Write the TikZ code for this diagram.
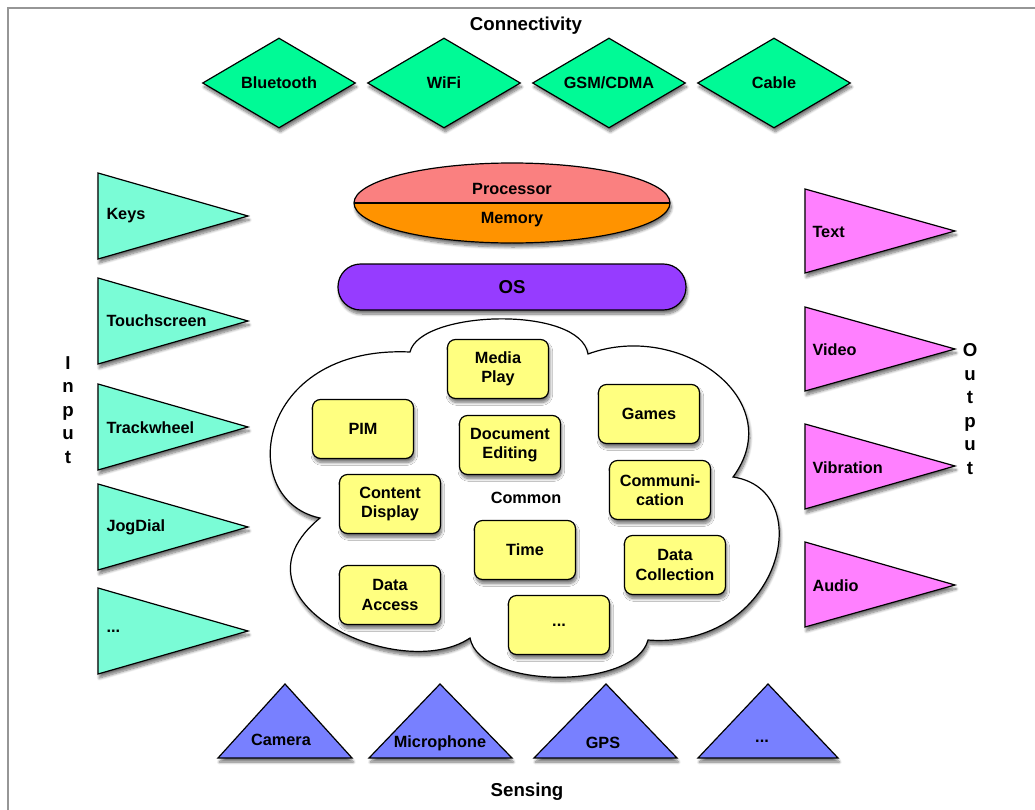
\documentclass[tikz,border=0pt]{standalone}
\usepackage{fontspec}
\setmainfont{Liberation Sans}
\usetikzlibrary{shapes.geometric,shadows.blur}

\tikzset{every picture/.style={line width=0.75pt}}
\tikzset{
  lbl/.style={font=\bfseries\fontsize{12.2}{14.6}\selectfont, inner sep=0.75pt},
  title/.style={font=\bfseries\fontsize{14}{17.6}\selectfont, inner sep=0.75pt},
  softshadow/.style={blur shadow={shadow xshift=1pt, shadow yshift=-3pt, shadow blur steps=8, shadow opacity=55}},
  outline/.style={draw, line width=0.9pt},
  conn/.style={diamond, outline, softshadow, fill={rgb,255:red,0;green,250;blue,150}, minimum width=114.75pt, minimum height=67.5pt, inner sep=0pt, aspect=1.7, lbl},
  intri/.style={outline, softshadow, fill={rgb,255:red,122;green,252;blue,214}},
  outtri/.style={outline, softshadow, fill={rgb,255:red,255;green,128;blue,255}},
  senstri/.style={outline, softshadow, fill={rgb,255:red,120;green,128;blue,255}},
  app/.style={rectangle, rounded corners=6pt, outline, softshadow, fill={rgb,255:red,255;green,255;blue,128}, minimum width=75.75pt, minimum height=44.25pt, align=center, lbl},
  osbox/.style={rectangle, rounded corners=17pt, outline, softshadow, fill={rgb,255:red,150;green,60;blue,255}, minimum width=261pt, minimum height=34.5pt, font=\bfseries\fontsize{14}{16}\selectfont}
}

\begin{document}
\begin{tikzpicture}[x=0.75pt,y=0.75pt,yscale=-1,xscale=1]
	\useasboundingbox (0,0) rectangle (1035,810);

	%Frame
	\draw [color={rgb, 255:red, 150; green, 150; blue, 150 }, line width=1.5] (8,810) -- (8,8) -- (1035,8) ;

	% Connectivity
	\node [title] (connectivity) at (526,26) {Connectivity};
	\node [conn] (bluetooth) at (279,83) {Bluetooth};
	\node [conn] (wifi) at (444,83) {WiFi};
	\node [conn] (gsm) at (609,83) {GSM/CDMA};
	\node [conn] (cable) at (774,83) {Cable};

	%Shape: Ellipse (processor / memory)
	\path [softshadow, fill=white] (512,203) ellipse [x radius=158, y radius=40] ;
	\fill [color={rgb, 255:red, 250; green, 128; blue, 128 }] (354,203) arc [start angle=180, end angle=360, x radius=158, y radius=40] -- cycle ;
	\fill [color={rgb, 255:red, 255; green, 147; blue, 0 }] (354,203) arc [start angle=180, end angle=0, x radius=158, y radius=40] -- cycle ;
	\draw [line width=0.9pt] (512,203) ellipse [x radius=158, y radius=40] ;
	\draw [line width=0.9pt] (354,203) -- (670,203) ;
	\node [lbl] (proc) at (512,189) {Processor};
	\node [lbl] (mem) at (512,220) {Memory};

	%Shape: OS
	\node [osbox] (os) at (512,287) {OS};

	%Shape: Cloud
	\draw [outline, softshadow, fill=white] (320,518) .. controls (235,500) and (255,345) .. (410,352)
		.. controls (420,310) and (580,305) .. (588,354)
		.. controls (680,320) and (790,400) .. (733,477)
		.. controls (820,490) and (780,650) .. (648,640)
		.. controls (635,690) and (480,690) .. (470,638)
		.. controls (400,685) and (220,600) .. (320,518) -- cycle ;

	% Apps
	\node [app] (media) at (498,369) {Media\\Play};
	\node [app] (pim) at (363,429) {PIM};
	\node [app] (docedit) at (510,445) {Document\\Editing};
	\node [app] (games) at (649,414) {Games};
	\node [app] (content) at (390,504) {Content\\Display};
	\node [app] (comm) at (660,490) {Communi-\\cation};
	\node [lbl] (common) at (526,498) {Common};
	\node [app] (time) at (525,550) {Time};
	\node [app] (datacoll) at (675,565) {Data\\Collection};
	\node [app] (dataacc) at (390,595) {Data\\Access};
	\node [app] (appdots) at (559,625) {...};

	%Shape: Triangles (input)
	\draw [intri] (98,173) -- (248,216) -- (98,259) -- cycle ;
	\draw [intri] (98,278) -- (248,321) -- (98,364) -- cycle ;
	\draw [intri] (98,384) -- (248,427) -- (98,470) -- cycle ;
	\draw [intri] (98,484) -- (248,527) -- (98,570) -- cycle ;
	\draw [intri] (98,588) -- (248,631) -- (98,674) -- cycle ;
	\node [lbl, anchor=west] (keys) at (105,216) {Keys};
	\node [lbl, anchor=west] (touch) at (105,321) {Touchscreen};
	\node [lbl, anchor=west] (track) at (105,428) {Trackwheel};
	\node [lbl, anchor=west] (jog) at (105,527) {JogDial};
	\node [lbl, anchor=west] (indots) at (105,631) {...};
	\node [title, align=center] (input) at (68,410) {I\\n\\p\\u\\t};

	%Shape: Triangles (output)
	\draw [outtri] (805,189) -- (955,231) -- (805,273) -- cycle ;
	\draw [outtri] (805,307) -- (955,349) -- (805,391) -- cycle ;
	\draw [outtri] (805,424) -- (955,466) -- (805,509) -- cycle ;
	\draw [outtri] (805,542) -- (955,585) -- (805,627) -- cycle ;
	\node [lbl, anchor=west] (txt) at (811,232) {Text};
	\node [lbl, anchor=west] (video) at (811,350) {Video};
	\node [lbl, anchor=west] (vibr) at (811,468) {Vibration};
	\node [lbl, anchor=west] (audio) at (811,586) {Audio};
	\node [title, align=center] (output) at (970,409) {O\\u\\t\\p\\u\\t};

	%Shape: Triangles (sensing)
	\draw [senstri] (218,758) -- (285,684) -- (352,758) -- cycle ;
	\draw [senstri] (369,758) -- (440,684) -- (512,758) -- cycle ;
	\draw [senstri] (534,758) -- (606,684) -- (677,758) -- cycle ;
	\draw [senstri] (698,758) -- (768,684) -- (838,758) -- cycle ;
	\node [lbl] (camera) at (281,740) {Camera};
	\node [lbl] (micro) at (440,743) {Microphone};
	\node [lbl] (gps) at (603,743) {GPS};
	\node [lbl] (sensdots) at (762,741) {...};
	\node [title] (sensing) at (527,792) {Sensing};

\end{tikzpicture}
\end{document}
